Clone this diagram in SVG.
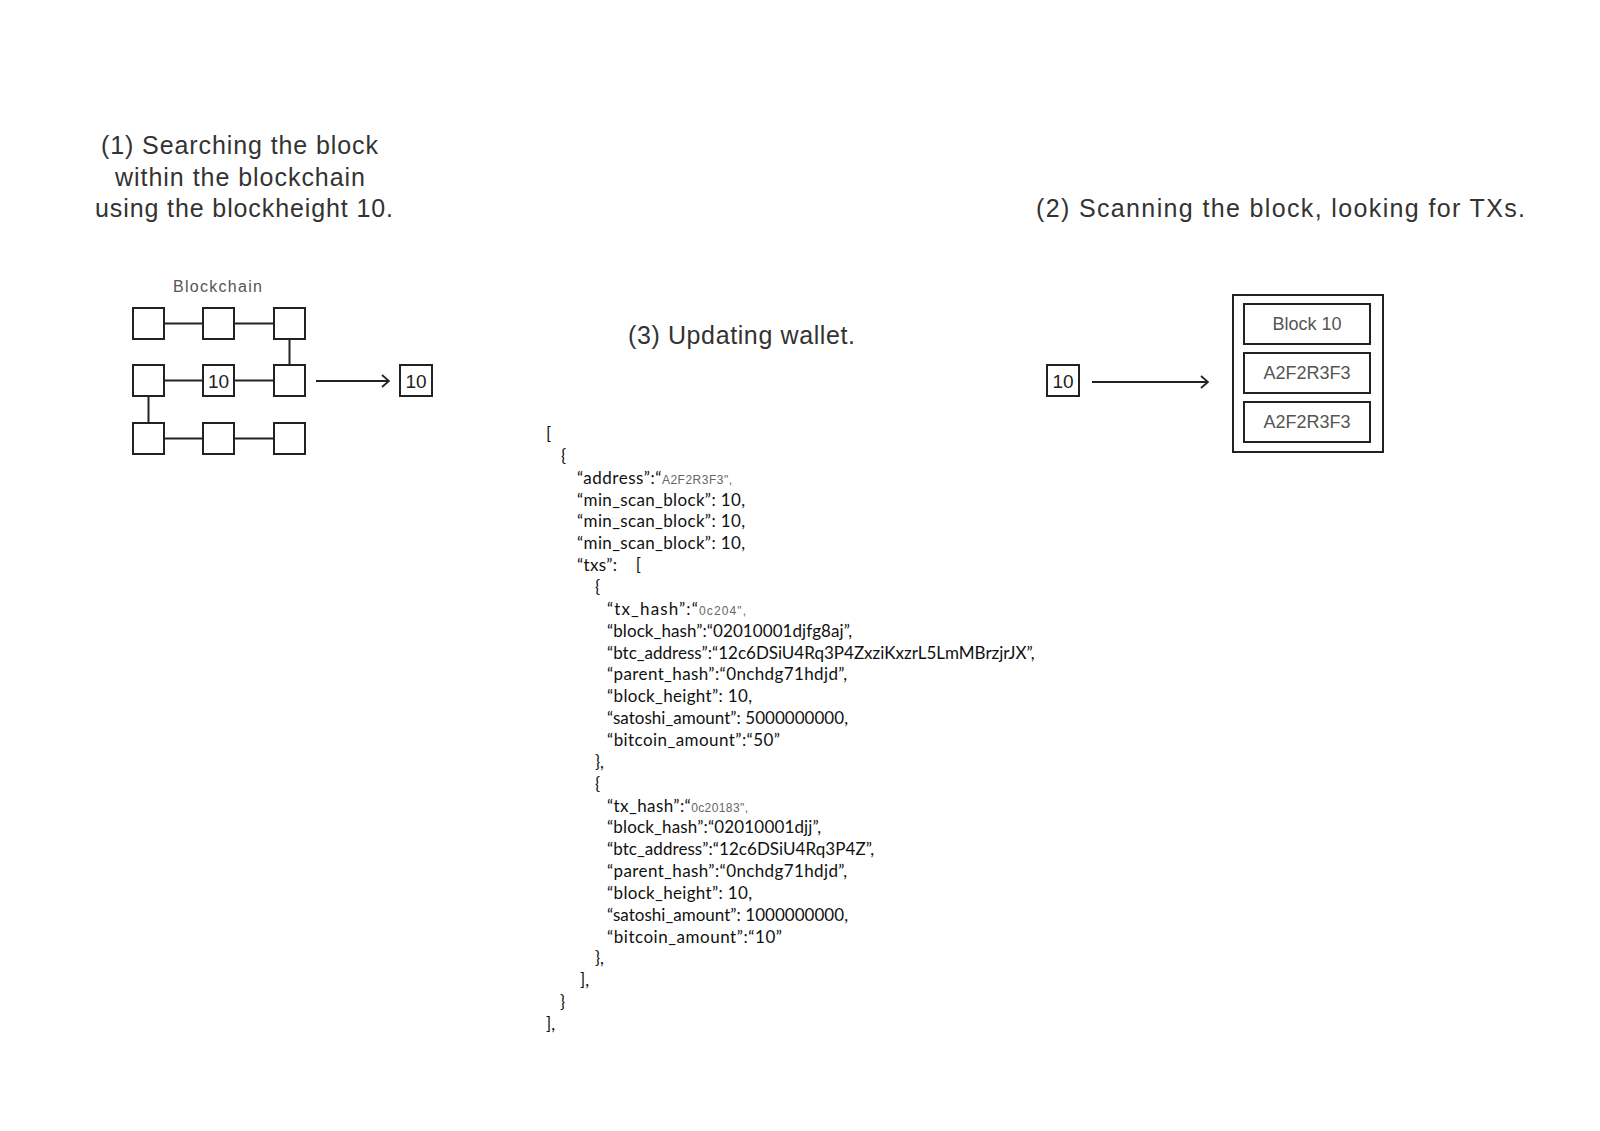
<svg xmlns="http://www.w3.org/2000/svg" width="1600" height="1131" viewBox="0 0 1600 1131">
<defs>
<style>
.title{font-family:"Liberation Sans",Arial,sans-serif;font-size:25px;fill:#333}
.lbl{font-family:"Liberation Sans",Arial,sans-serif;font-size:16px;fill:#555}
.blk{fill:#fff;stroke:#222;stroke-width:2}
.num{font-family:"Liberation Sans",Arial,sans-serif;font-size:19px;fill:#222;text-anchor:middle}
.btxt{font-family:"Liberation Sans",Arial,sans-serif;font-size:18px;fill:#555;text-anchor:middle}
.link{stroke:#222;stroke-width:2;fill:none}
.json{font-family:Lato,"Liberation Sans",sans-serif;font-size:17px;fill:#111}
.sm{font-family:"Liberation Sans",Arial,sans-serif;font-size:12px;fill:#666}
</style>
<marker id="chev" viewBox="0 0 10 14" refX="9" refY="7" markerWidth="10" markerHeight="14" markerUnits="userSpaceOnUse" orient="auto">
<path d="M2,1 L9,7 L2,13" fill="none" stroke="#222" stroke-width="1.8"/>
</marker>
</defs>
<rect width="1600" height="1131" fill="#fff"/>

<g id="title1">
<text class="title" x="101" y="154" textLength="277">(1) Searching the block</text>
<text class="title" x="115" y="186" textLength="250">within the blockchain</text>
<text class="title" x="95" y="217" textLength="298">using the blockheight 10.</text>
</g>
<g id="title2"><text class="title" x="1036" y="217" textLength="489">(2) Scanning the block, looking for TXs.</text></g>
<g id="title3"><text class="title" x="628" y="344" textLength="227">(3) Updating wallet.</text></g>

<g id="blockchain">
<text class="lbl" x="173" y="292" textLength="89">Blockchain</text>
</g>

<g id="connectors">
<line class="link" x1="164" y1="323.5" x2="203" y2="323.5"/>
<line class="link" x1="234" y1="323.5" x2="274" y2="323.5"/>
<line class="link" x1="164" y1="380.5" x2="203" y2="380.5"/>
<line class="link" x1="234" y1="380.5" x2="274" y2="380.5"/>
<line class="link" x1="164" y1="438.5" x2="203" y2="438.5"/>
<line class="link" x1="234" y1="438.5" x2="274" y2="438.5"/>
<line class="link" x1="289.5" y1="339" x2="289.5" y2="365"/>
<line class="link" x1="148.5" y1="396" x2="148.5" y2="423"/>
<line class="link" x1="316" y1="381" x2="389" y2="381" marker-end="url(#chev)"/>
<line class="link" x1="1092" y1="382" x2="1208" y2="382" marker-end="url(#chev)"/>
</g>

<g id="b11"><rect class="blk" x="133" y="308" width="31" height="31"/></g>
<g id="b12"><rect class="blk" x="203" y="308" width="31" height="31"/></g>
<g id="b13"><rect class="blk" x="274" y="308" width="31" height="31"/></g>
<g id="b21"><rect class="blk" x="133" y="365" width="31" height="31"/></g>
<g id="b22"><rect class="blk" x="203" y="365" width="31" height="31"/><text class="num" x="218.5" y="388">10</text></g>
<g id="b23"><rect class="blk" x="274" y="365" width="31" height="31"/></g>
<g id="b31"><rect class="blk" x="133" y="423" width="31" height="31"/></g>
<g id="b32"><rect class="blk" x="203" y="423" width="31" height="31"/></g>
<g id="b33"><rect class="blk" x="274" y="423" width="31" height="31"/></g>

<g id="found10"><rect class="blk" x="400" y="365" width="32" height="31"/><text class="num" x="416" y="388">10</text></g>
<g id="height10"><rect class="blk" x="1047" y="365" width="32" height="31"/><text class="num" x="1063" y="388">10</text></g>

<g id="block10">
<rect class="blk" x="1233" y="295" width="150" height="157"/>
<rect class="blk" x="1244" y="304" width="126" height="40"/>
<text class="btxt" x="1307" y="330">Block 10</text>
<rect class="blk" x="1244" y="353" width="126" height="40"/>
<text class="btxt" x="1307" y="379">A2F2R3F3</text>
<rect class="blk" x="1244" y="402" width="126" height="40"/>
<text class="btxt" x="1307" y="428">A2F2R3F3</text>
</g>

<g id="wallet-json" class="json">
<text x="546" y="440">[</text>
<text x="561" y="461.9">{</text>
<text x="577" y="483.7" textLength="155">“address”:“<tspan class="sm">A2F2R3F3",</tspan></text>
<text x="577" y="505.6" textLength="168">“min_scan_block”: 10,</text>
<text x="577" y="527.4" textLength="168">“min_scan_block”: 10,</text>
<text x="577" y="549.3" textLength="168">“min_scan_block”: 10,</text>
<text x="577" y="571.1" xml:space="preserve" textLength="64">“txs”:    [</text>
<text x="595" y="593">{</text>
<text x="607" y="614.8" textLength="139">“tx_hash”:“<tspan class="sm">0c204",</tspan></text>
<text x="607" y="636.7" textLength="245">“block_hash”:“02010001djfg8aj”,</text>
<text x="607" y="658.5">“btc_address”:“12c6DSiU4Rq3P4ZxziKxzrL5LmMBrzjrJX”,</text>
<text x="607" y="680.4" textLength="240">“parent_hash”:“0nchdg71hdjd”,</text>
<text x="607" y="702.2" textLength="145">“block_height”: 10,</text>
<text x="607" y="724.1" textLength="241">“satoshi_amount”: 5000000000,</text>
<text x="607" y="745.9" textLength="173">“bitcoin_amount”:“50”</text>
<text x="595" y="767.8">},</text>
<text x="595" y="789.6">{</text>
<text x="607" y="811.5" textLength="141">“tx_hash”:“<tspan class="sm">0c20183",</tspan></text>
<text x="607" y="833.3" textLength="214">“block_hash”:“02010001djj”,</text>
<text x="607" y="855.2" textLength="267">“btc_address”:“12c6DSiU4Rq3P4Z”,</text>
<text x="607" y="877" textLength="240">“parent_hash”:“0nchdg71hdjd”,</text>
<text x="607" y="898.9" textLength="145">“block_height”: 10,</text>
<text x="607" y="920.7" textLength="241">“satoshi_amount”: 1000000000,</text>
<text x="607" y="942.6" textLength="175">“bitcoin_amount”:“10”</text>
<text x="595" y="964.4">},</text>
<text x="580" y="986.3">],</text>
<text x="560" y="1008.1">}</text>
<text x="546" y="1030">],</text>
</g>
</svg>
